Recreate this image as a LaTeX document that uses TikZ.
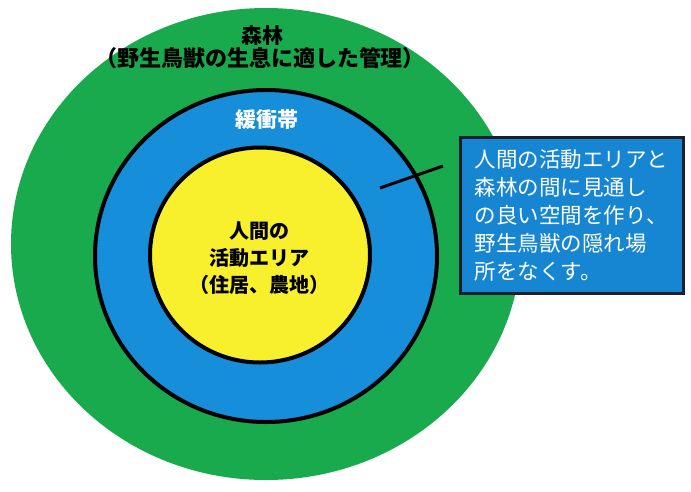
\documentclass[tikz,border=0pt]{standalone}
\usepackage{fontspec}
\newfontfamily\jp{Noto Sans CJK JP}
\usetikzlibrary{shapes.geometric}
\definecolor{forestgreen}{RGB}{24,170,76}
\definecolor{bufferblue}{RGB}{22,142,218}
\definecolor{areayellow}{RGB}{248,240,44}
\definecolor{boxblue}{RGB}{22,134,210}
\definecolor{boxedge}{RGB}{28,30,48}
\tikzset{
  ring/.style={ellipse, inner sep=0pt},
  ringline/.style={draw=black, line width=4pt},
  titletext/.style={font=\jp\bfseries\fontsize{21}{24}\selectfont, text=black, inner sep=0pt},
  bufftext/.style={font=\jp\bfseries\fontsize{21}{24}\selectfont, text=white, inner sep=0pt},
  coretext/.style={font=\jp\bfseries\fontsize{20}{27}\selectfont, text=black, align=center, inner sep=0pt},
  notebox/.style={rectangle, draw=boxedge, line width=3pt, fill=boxblue, text=white,
    minimum width=223pt, minimum height=156pt, align=left, inner sep=0pt,
    font=\jp\fontsize{21.5}{28}\selectfont},
  leader/.style={draw=black, line width=3pt}
}
\begin{document}
\begin{tikzpicture}[x=1pt,y=-1pt]
\useasboundingbox (0,0) rectangle (691,491);
\node[ring, fill=forestgreen, minimum width=510pt, minimum height=472pt] (forest) at (266,244) {};
\node[ring, ringline, fill=bufferblue, minimum width=342pt, minimum height=332pt] (buffer) at (266,256) {};
\node[ring, ringline, fill=areayellow, minimum width=220pt, minimum height=215pt] (core) at (260,255) {};
\node[titletext] (t1) at (262,35) {森林};
\node[titletext, font=\jp\bfseries\fontsize{22}{24}\selectfont] (t2) at (260,58) {（野生鳥獣の生息に適した管理）};
\node[bufftext] (t3) at (267,120) {緩衝帯};
\node[coretext] (t4) at (259,258) {人間の\\活動エリア\\（住居、農地）};
\node[notebox] (note) at (571.5,215) {人間の活動エリアと\\森林の間に見通し\\の良い空間を作り、\\野生鳥獣の隠れ場\\所をなくす。};
\coordinate (la) at (380,188);
\coordinate (lb) at (443,166);
\draw[leader] (la) -- (lb);
\end{tikzpicture}
\end{document}
